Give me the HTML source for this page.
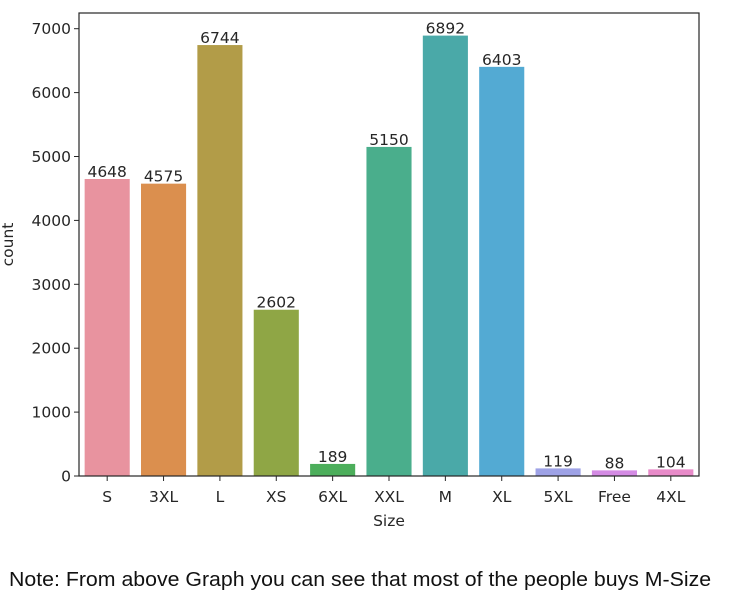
<!DOCTYPE html>
<html><head><meta charset="utf-8"><style>
body{margin:0;background:#fff;width:738px;height:614px;overflow:hidden;font-family:"Liberation Sans","DejaVu Sans",sans-serif}
svg text{font-family:"DejaVu Sans","Liberation Sans",sans-serif;fill:#262626}
#note{position:absolute;left:9px;top:569px;font-size:20px;color:#111;font-family:"Liberation Sans",sans-serif;white-space:nowrap;transform-origin:0 0;transform:scaleX(1.065)}
</style></head><body>
<svg id="chart" width="738" height="560" style="position:absolute;left:0;top:0"></svg>
<div id="note">Note: From above Graph you can see that most of the people buys M-Size</div>
<script>
const categories=["S","3XL","L","XS","6XL","XXL","M","XL","5XL","Free","4XL"];
const counts=[4648,4575,6744,2602,189,5150,6892,6403,119,88,104];
const colors=["#e8939f","#db8f4e","#b29c48","#8fa645","#4cae5b","#4aae8c","#4aa9a8","#53aad3","#9ea2e6","#d48be4","#e88bc9"];
const yTicks=[0,1000,2000,3000,4000,5000,6000,7000];
const L=79,R=699,T=13,B=476;
const svg=document.getElementById('chart');
const NS='http://www.w3.org/2000/svg';
const step=(R-L)/categories.length;
const x=i=>L+step*(i+0.5);
const y=v=>B-(v/7000)*(B-28.7);
const FS='15.5';
function mk(t,a){const e=document.createElementNS(NS,t);for(const k in a)e.setAttribute(k,a[k]);svg.appendChild(e);return e;}
counts.forEach((v,i)=>{
  const r=mk('rect',{x:x(i)-step*0.4,y:y(v),width:step*0.8,height:B-y(v),fill:colors[i]});
  
  
  const t=mk('text',{x:x(i),y:y(v)-2,'text-anchor':'middle','font-size':FS});
  t.textContent=v;
  
  
  mk('line',{x1:x(i),x2:x(i),y1:B,y2:B+5,stroke:'#262626','stroke-width':1});
  const tl=mk('text',{x:x(i),y:B+26,'text-anchor':'middle','font-size':FS});
  tl.textContent=categories[i];
  
  
});
yTicks.forEach(v=>{
  mk('line',{x1:L-5,x2:L,y1:y(v),y2:y(v),stroke:'#262626','stroke-width':1});
  const t=mk('text',{x:L-8,y:y(v)+5.5,'text-anchor':'end','font-size':FS});
  t.textContent=v;
  
  
});
const fr=mk('rect',{x:L,y:T,width:R-L,height:B-T,fill:'none',stroke:'#262626','stroke-width':1.2});


const xt=mk('text',{x:(L+R)/2,y:526,'text-anchor':'middle','font-size':FS});
xt.textContent='Size';


const yt=mk('text',{x:0,y:0,'text-anchor':'middle','font-size':FS,transform:'translate(13,'+((T+B)/2)+') rotate(-90)'});
yt.textContent='count';


</script>
</body></html>
